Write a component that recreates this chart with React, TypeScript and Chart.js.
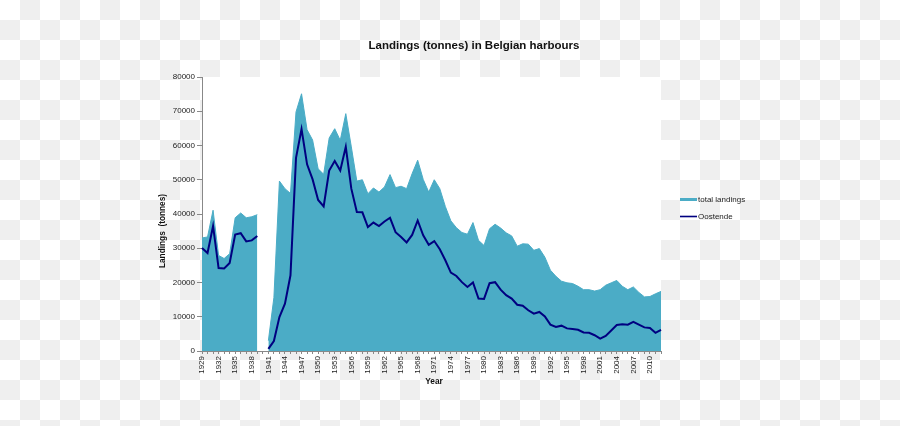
import React, { useEffect, useRef } from "react";
import { Chart, registerables } from "chart.js";

Chart.register(...registerables);

const years: string[] = [
  "1929","1930","1931","1932","1933","1934","1935","1936","1937","1938","1939","1940",
  "1941","1942","1943","1944","1945","1946","1947","1948","1949","1950",
  "1951","1952","1953","1954","1955","1956","1957","1958","1959","1960",
  "1961","1962","1963","1964","1965","1966","1967","1968","1969","1970",
  "1971","1972","1973","1974","1975","1976","1977","1978","1979","1980",
  "1981","1982","1983","1984","1985","1986","1987","1988","1989","1990",
  "1991","1992","1993","1994","1995","1996","1997","1998","1999","2000",
  "2001","2002","2003","2004","2005","2006","2007","2008","2009","2010",
  "2011","2012",
];

const totalLandings: (number | null)[] = [
  33000, 33300, 41100, 27900, 27000, 28400, 38900, 40300, 38900, 39200, 39800, null,
  3000, 15600, 49600, 47400, 46000, 69800, 75100, 64600, 61600, 53200,
  51600, 62200, 64900, 61500, 69300, 59600, 49600, 50000, 45900, 47600,
  46400, 47900, 51500, 47700, 48100, 47400, 51800, 55700, 50100, 46400,
  50000, 47400, 42200, 38000, 36000, 34600, 34100, 37500, 32300, 30800,
  35700, 37000, 35900, 34500, 33600, 30600, 31300, 31200, 29400, 29900,
  27400, 23600, 21800, 20400, 19900, 19700, 18900, 17900, 17900, 17500,
  17900, 19200, 19900, 20600, 18900, 17900, 18700, 17100, 15800, 15900,
  16700, 17400,
];

const oostende: (number | null)[] = [
  30100, 28600, 36500, 24200, 24100, 25700, 34000, 34400, 32000, 32300, 33600, null,
  600, 2900, 9900, 13800, 22100, 56400, 64800, 54500, 50100, 44100,
  42200, 52700, 55500, 52700, 59600, 47400, 40600, 40500, 36200, 37500,
  36500, 37800, 38900, 34700, 33300, 31700, 33900, 38100, 33800, 31000,
  32100, 29700, 26500, 22900, 21900, 20100, 18700, 20000, 15300, 15200,
  19800, 20100, 17900, 16300, 15300, 13500, 13200, 11900, 10900, 11400,
  10100, 7700, 7000, 7400, 6600, 6400, 6200, 5400, 5300, 4600,
  3600, 4400, 6000, 7600, 7800, 7700, 8500, 7700, 6900, 6700,
  5300, 6200,
];

const chartTitle = "Landings (tonnes) in Belgian harbours";
const yTitle = "Landings  (tonnes)";
const xTitle = "Year";

const FONT = "'Liberation Sans', Arial, sans-serif";
const TEAL = "#4bacc6";
const NAVY = "#000080";

const decorPlugin = {
  id: "decor",
  beforeDraw(chart: any) {
    const { ctx, width, height, chartArea } = chart;
    ctx.save();
    ctx.fillStyle = "#ffffff";
    ctx.fillRect(0, 0, width, height);
    ctx.fillStyle = "#efefef";
    for (let y = 0; y < height; y += 20) {
      for (let x = 0; x < width; x += 20) {
        if (((x / 20) + (y / 20)) % 2 === 1) ctx.fillRect(x, y, 20, 20);
      }
    }
    ctx.fillStyle = "#ffffff";
    ctx.fillRect(chartArea.left, chartArea.top, chartArea.right - chartArea.left, chartArea.bottom - chartArea.top);
    ctx.restore();
  },
  afterDraw(chart: any) {
    const { ctx } = chart;
    ctx.save();
    ctx.fillStyle = "#111";
    ctx.textAlign = "center";
    ctx.textBaseline = "middle";
    ctx.font = `bold 11.5px ${FONT}`;
    ctx.fillText(chartTitle, 474, 46);

    ctx.font = `bold 8.3px ${FONT}`;
    ctx.fillText(xTitle, 434, 382);

    ctx.save();
    ctx.translate(162.5, 231);
    ctx.rotate(-Math.PI / 2);
    ctx.fillText(yTitle, 0, 0);
    ctx.restore();

    // legend
    const ds = chart.data.datasets;
    const items = [ds[1], ds[0]];
    const ys = [199.5, 216.5];
    ctx.textAlign = "left";
    ctx.font = `8px ${FONT}`;
    items.forEach((d: any, i: number) => {
      ctx.fillStyle = d.legendColor;
      const th = d.legendThick;
      ctx.fillRect(680, ys[i] - th / 2, 17, th);
      ctx.fillStyle = "#222";
      ctx.fillText(d.label, 698, ys[i]);
    });
    ctx.restore();
  },
};

export default function App() {
  const ref = useRef<HTMLCanvasElement | null>(null);
  useEffect(() => {
    if (!ref.current) return;
    const chart = new Chart(ref.current, {
      type: "line",
      data: {
        labels: years,
        datasets: [
          {
            label: "Oostende",
            data: oostende,
            borderColor: NAVY,
            borderWidth: 2,
            pointRadius: 0,
            fill: false,
            tension: 0,
            order: 0,
            legendColor: NAVY,
            legendThick: 1.6,
          } as any,
          {
            label: "total landings",
            data: totalLandings,
            borderColor: TEAL,
            backgroundColor: TEAL,
            borderWidth: 1,
            pointRadius: 0,
            fill: "origin",
            tension: 0,
            order: 1,
            legendColor: TEAL,
            legendThick: 3,
          } as any,
        ],
      },
      options: {
        responsive: false,
        animation: false,
        layout: { padding: { left: 0, right: 239, top: 77, bottom: 0 } },
        plugins: {
          legend: { display: false },
          title: { display: false },
          tooltip: { enabled: false },
        },
        scales: {
          x: {
            type: "category",
            offset: false,
            grid: { display: true, drawOnChartArea: false, drawTicks: true, tickLength: 3, color: "#888" },
            border: { display: true, color: "#888" },
            ticks: {
              autoSkip: false,
              maxRotation: 90,
              minRotation: 90,
              padding: 2,
              color: "#222",
              font: { family: FONT, size: 8 },
              callback: (_v: any, i: number) => ((i % 3 === 0) ? years[i] : ""),
            },
            afterFit: (s: any) => { s.height = 75; },
          },
          y: {
            min: 0,
            max: 80000,
            grid: { display: true, drawOnChartArea: false, drawTicks: true, tickLength: 5, color: "#888" },
            border: { display: true, color: "#888" },
            ticks: {
              stepSize: 10000,
              padding: 2,
              color: "#222",
              font: { family: FONT, size: 8 },
              callback: (v: any) => String(v),
            },
            afterFit: (s: any) => { s.width = 202; },
          },
        },
      },
      plugins: [decorPlugin],
    });
    return () => chart.destroy();
  }, []);
  return (
    <div style={{ position: "fixed", left: 0, top: 0, width: 900, height: 426 }}>
      <canvas ref={ref} width={900} height={426} style={{ display: "block", width: 900, height: 426 }} />
    </div>
  );
}
